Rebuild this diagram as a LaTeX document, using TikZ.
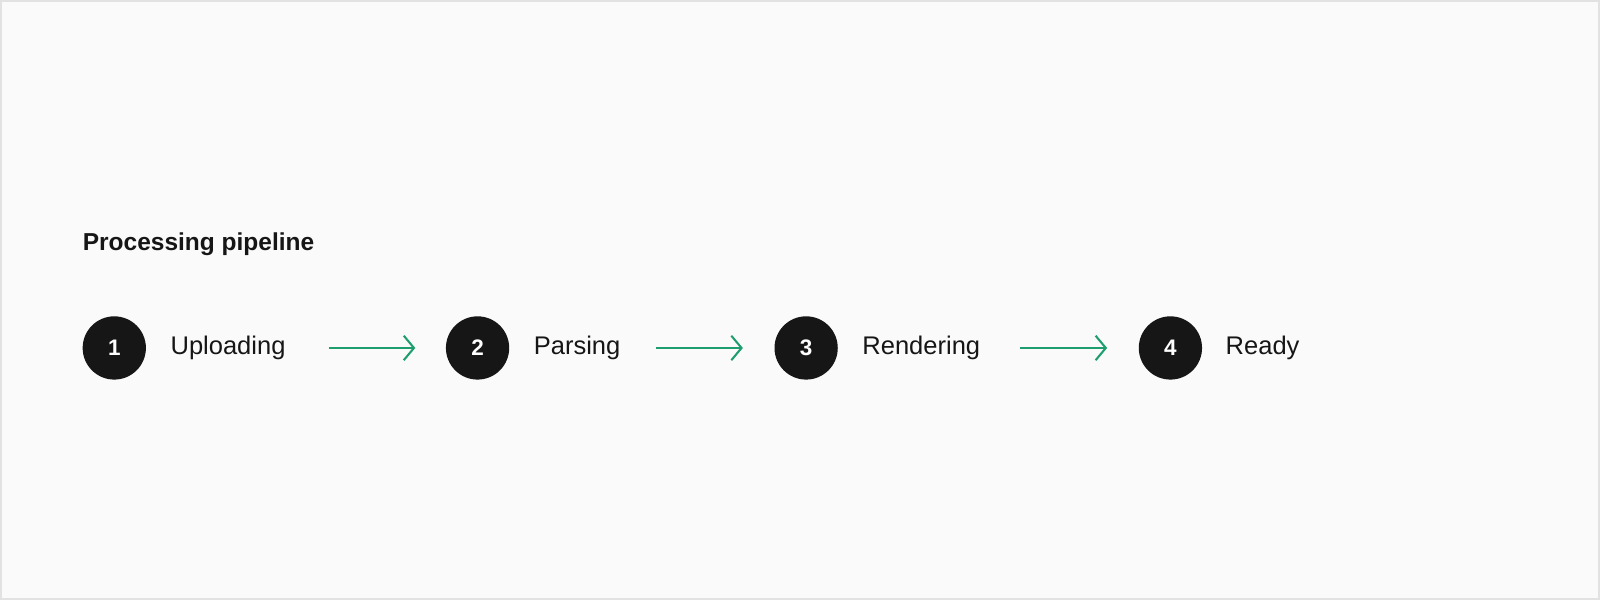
\documentclass[tikz,border=0pt]{standalone}
\usepackage{fontspec}
\setmainfont{Liberation Sans}
\usetikzlibrary{arrows.meta}
\definecolor{bg}{HTML}{FAFAFA}
\definecolor{frame}{HTML}{E2E2E2}
\definecolor{ink}{HTML}{161616}
\definecolor{grn}{HTML}{1E9E6E}
\tikzset{
  num/.style={circle,fill=ink,minimum size=62pt,inner sep=0pt,text=white,font=\fontsize{22}{24}\selectfont\bfseries},
  lbl/.style={anchor=west,inner sep=0pt,text=ink,font=\fontsize{25}{28}\selectfont},
  flow/.style={draw=grn,line width=2pt,-{Straight Barb[length=10pt,width=24pt,line width=2pt]}}
}
\begin{document}
\begin{tikzpicture}[x=1pt,y=-1pt]
\useasboundingbox (0,0) rectangle (1568,588);
\draw[frame,fill=bg,line width=1.5pt] (1,1) rectangle (1567,587);
\node[anchor=base west,inner sep=0pt,text=ink,font=\fontsize{24}{28}\selectfont\bfseries] (title) at (81,245) {Processing pipeline};
\node[num] (n1) at (112,341) {1};
\node[num] (n2) at (468,341) {2};
\node[num] (n3) at (790,341) {3};
\node[num] (n4) at (1147,341) {4};
\node[lbl] (l1) at (167,341) {Uploading};
\node[lbl] (l2) at (523,341) {Parsing};
\node[lbl] (l3) at (845,341) {Rendering};
\node[lbl] (l4) at (1201,341) {Ready};
\coordinate (a1) at (322,341); \coordinate (b1) at (407,341);
\coordinate (a2) at (643,341); \coordinate (b2) at (728,341);
\coordinate (a3) at (1000,341); \coordinate (b3) at (1085,341);
\draw[flow] (a1) -- (b1);
\draw[flow] (a2) -- (b2);
\draw[flow] (a3) -- (b3);
\end{tikzpicture}
\end{document}
